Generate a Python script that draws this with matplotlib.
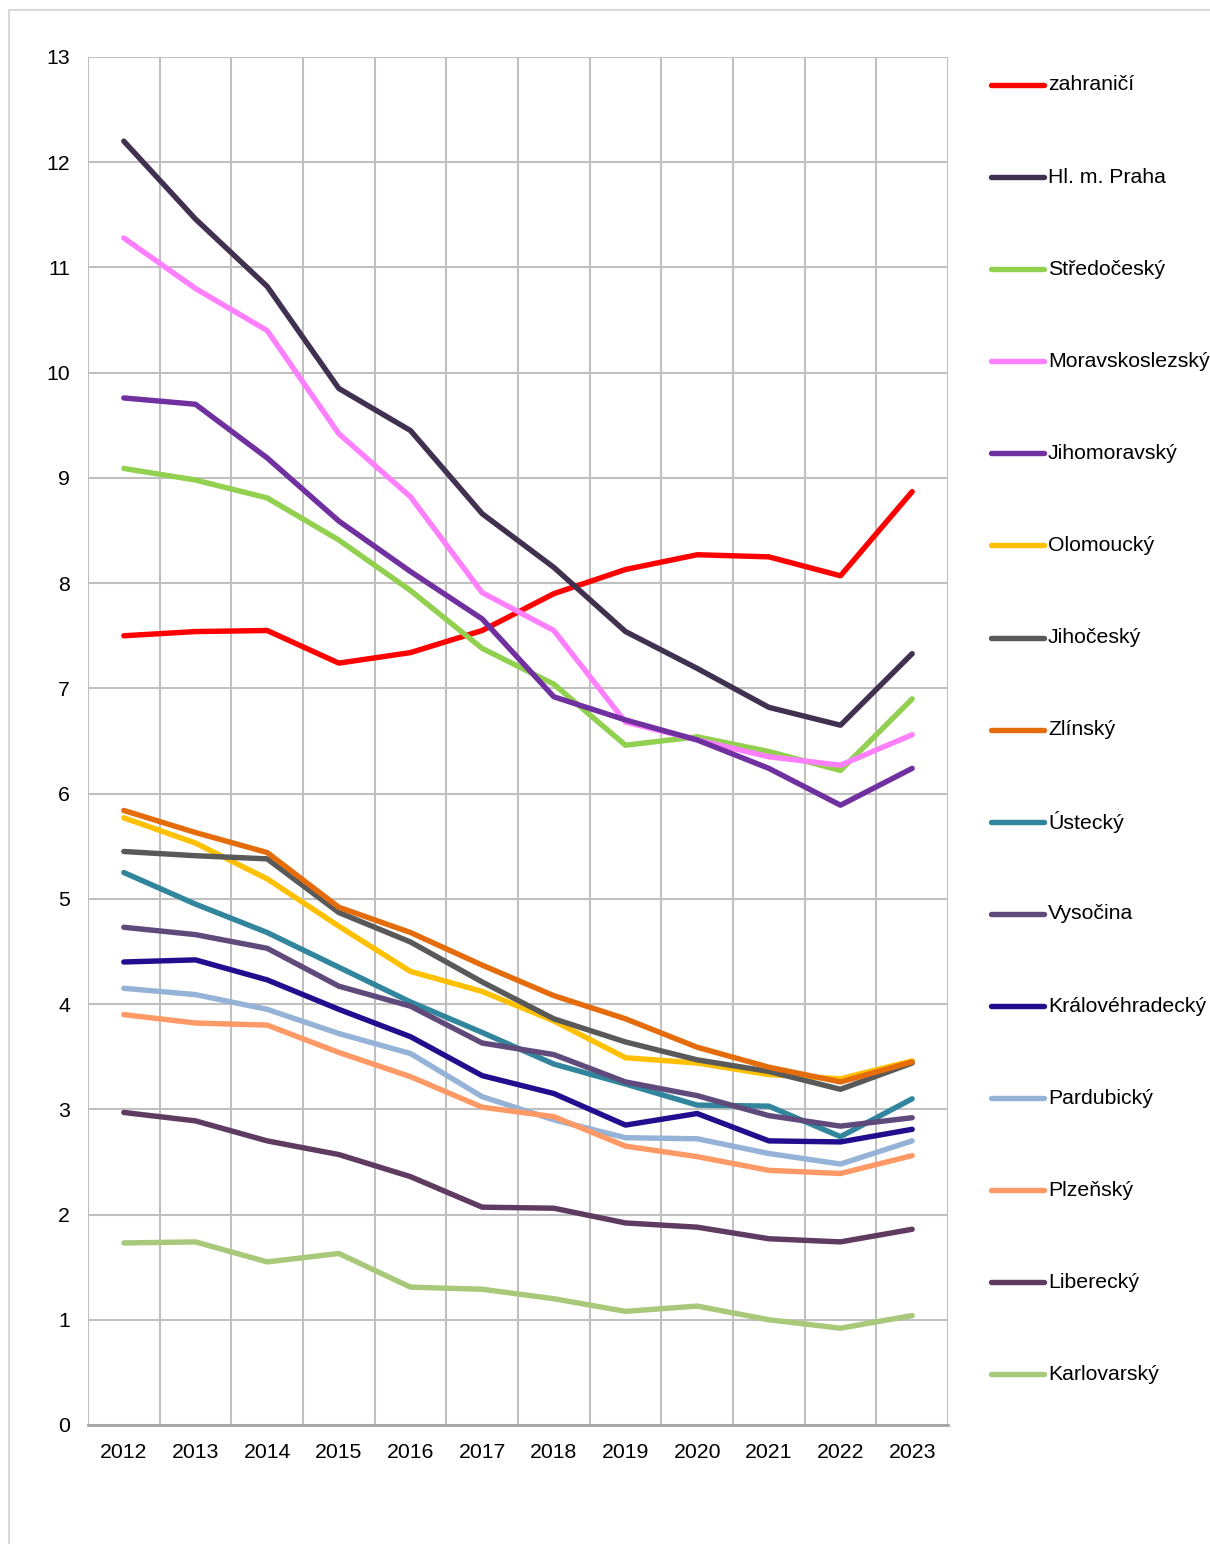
import matplotlib.pyplot as plt
from matplotlib.lines import Line2D
from matplotlib.patches import Rectangle

plt.rcParams['font.family'] = ['Liberation Sans', 'DejaVu Sans']

years = ['2012', '2013', '2014', '2015', '2016', '2017',
         '2018', '2019', '2020', '2021', '2022', '2023']

zahranici = [7.50, 7.54, 7.55, 7.24, 7.34, 7.55, 7.90, 8.13, 8.27, 8.25, 8.07, 8.87]
praha = [12.20, 11.46, 10.82, 9.85, 9.45, 8.66, 8.15, 7.54, 7.19, 6.82, 6.65, 7.33]
stredocesky = [9.09, 8.98, 8.81, 8.41, 7.93, 7.38, 7.04, 6.46, 6.54, 6.40, 6.22, 6.90]
moravskoslezsky = [11.28, 10.80, 10.40, 9.42, 8.82, 7.91, 7.55, 6.68, 6.51, 6.35, 6.27, 6.56]
jihomoravsky = [9.76, 9.70, 9.19, 8.59, 8.11, 7.66, 6.92, 6.70, 6.51, 6.24, 5.89, 6.24]
olomoucky = [5.77, 5.53, 5.19, 4.74, 4.31, 4.12, 3.84, 3.49, 3.44, 3.33, 3.29, 3.46]
jihocesky = [5.45, 5.41, 5.38, 4.87, 4.59, 4.21, 3.86, 3.64, 3.47, 3.36, 3.19, 3.44]
zlinsky = [5.84, 5.63, 5.44, 4.92, 4.68, 4.37, 4.08, 3.86, 3.59, 3.40, 3.26, 3.45]
ustecky = [5.25, 4.95, 4.68, 4.35, 4.02, 3.73, 3.43, 3.24, 3.04, 3.03, 2.74, 3.10]
vysocina = [4.73, 4.66, 4.53, 4.17, 3.98, 3.63, 3.52, 3.26, 3.13, 2.94, 2.84, 2.92]
kralovehradecky = [4.40, 4.42, 4.23, 3.95, 3.69, 3.32, 3.15, 2.85, 2.96, 2.70, 2.69, 2.81]
pardubicky = [4.15, 4.09, 3.95, 3.72, 3.53, 3.12, 2.90, 2.73, 2.72, 2.58, 2.48, 2.70]
plzensky = [3.90, 3.82, 3.80, 3.54, 3.31, 3.02, 2.93, 2.65, 2.55, 2.42, 2.39, 2.56]
liberecky = [2.97, 2.89, 2.70, 2.57, 2.36, 2.07, 2.06, 1.92, 1.88, 1.77, 1.74, 1.86]
karlovarsky = [1.73, 1.74, 1.55, 1.63, 1.31, 1.29, 1.20, 1.08, 1.13, 1.00, 0.92, 1.04]

series = [
    ('zahraničí', zahranici, '#FF0000'),
    ('Hl. m. Praha', praha, '#403151'),
    ('Středočeský', stredocesky, '#92D050'),
    ('Moravskoslezský', moravskoslezsky, '#FF80FF'),
    ('Jihomoravský', jihomoravsky, '#7030A0'),
    ('Olomoucký', olomoucky, '#FFC000'),
    ('Jihočeský', jihocesky, '#595959'),
    ('Zlínský', zlinsky, '#E46C0A'),
    ('Ústecký', ustecky, '#31859C'),
    ('Vysočina', vysocina, '#604A7B'),
    ('Královéhradecký', kralovehradecky, '#200E8E'),
    ('Pardubický', pardubicky, '#95B3D7'),
    ('Plzeňský', plzensky, '#FF9966'),
    ('Liberecký', liberecky, '#5F3A61'),
    ('Karlovarský', karlovarsky, '#A9C97A'),
]

W, H = 1210, 1544
fig = plt.figure(figsize=(W / 100, H / 100), dpi=100)

# light frame around the chart area
fig.add_artist(Rectangle((9 / W, -0.01), 1.1, 1 - 10 / H + 0.01,
                         transform=fig.transFigure, fill=False,
                         edgecolor='#D9D9D9', linewidth=1.5))

ax = fig.add_axes([88 / W, 1 - 1425 / H, (948 - 88) / W, (1425 - 57) / H])

x = list(range(len(years)))
for name, vals, col in series:
    ax.plot(x, vals, color=col, linewidth=3.9, solid_joinstyle='round',
            solid_capstyle='round', zorder=3)

ax.set_xlim(-0.5, len(years) - 0.5)
ax.set_ylim(0, 13)
ax.set_yticks(range(0, 14))
ax.set_xticks(x)
ax.set_xticklabels(years)
ax.set_xticks([i - 0.5 for i in range(len(years) + 1)], minor=True)

ax.grid(axis='y', which='major', color='#C0C0C0', linewidth=1.5)
ax.grid(axis='x', which='minor', color='#C0C0C0', linewidth=1.5)
ax.grid(axis='x', which='major', visible=False)
ax.tick_params(which='both', length=0, labelsize=15.3, colors='#000000')
ax.tick_params(axis='y', pad=13)
ax.tick_params(axis='x', pad=13)
for s in ['top', 'right', 'left']:
    ax.spines[s].set_visible(False)
ax.spines['bottom'].set_color('#A6A6A6')
ax.spines['bottom'].set_linewidth(2)
ax.set_axisbelow(True)

# legend column on the right
y0, step = 85, 92.1
for i, (name, vals, col) in enumerate(series):
    yy = 1 - (y0 + i * step) / H
    fig.add_artist(Line2D([991 / W, 1044 / W], [yy, yy], transform=fig.transFigure,
                          color=col, linewidth=3.9, solid_capstyle='round'))
    fig.text(1048 / W, yy, name, fontsize=15.3, va='center', ha='left', color='#000000')

fig.savefig('out.png', dpi=100)
